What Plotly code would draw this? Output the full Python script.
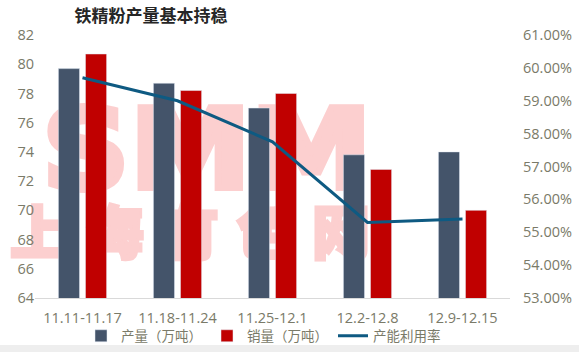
import base64
import plotly.graph_objects as go

categories = ["11.11-11.17", "11.18-11.24", "11.25-12.1", "12.2-12.8", "12.9-12.15"]
output_vals = [79.7, 78.7, 77.0, 73.8, 74.0]      # 产量（万吨）
sales_vals = [80.7, 78.2, 78.0, 72.8, 70.0]       # 销量（万吨）
util_rate = [0.597, 0.590, 0.5775, 0.553, 0.554]  # 产能利用率

left_ticks = list(range(64, 83, 2))
right_ticks = [0.53, 0.54, 0.55, 0.56, 0.57, 0.58, 0.59, 0.60, 0.61]

W, H = 579, 352
ML, MR, MT, MB = 35, 69, 35, 54
PW, PH = W - ML - MR, H - MT - MB

tick_color = "#7A7A68"
font_fam = "Open Sans, Noto Sans CJK SC, sans-serif"

fig = go.Figure()
fig.add_trace(go.Bar(name="产量（万吨）", x=categories, y=output_vals,
                     marker_color="#44546A", yaxis="y"))
fig.add_trace(go.Bar(name="销量（万吨）", x=categories, y=sales_vals,
                     marker_color="#C00000", yaxis="y"))
fig.add_trace(go.Scatter(name="产能利用率", x=categories, y=util_rate, mode="lines",
                         line=dict(color="#0E5A82", width=3), yaxis="y2"))

svg = f'''<svg xmlns="http://www.w3.org/2000/svg" width="{W}" height="{H}" viewBox="0 0 {W} {H}">
<text x="42" y="188" font-family="DejaVu Sans, Liberation Sans" font-weight="bold" font-size="110" fill="#FCCFCF" stroke="#FCCFCF" stroke-width="6" textLength="330" lengthAdjust="spacingAndGlyphs">SMM</text>
<text x="10" y="254" font-family="Noto Sans CJK SC" font-weight="900" font-size="58" fill="#FCCFCF" stroke="#FCCFCF" stroke-width="3" textLength="360" lengthAdjust="spacing">上海有色网</text>
</svg>'''
uri = "data:image/svg+xml;base64," + base64.b64encode(svg.encode("utf-8")).decode()

fig.update_layout(
    width=W, height=H,
    margin=dict(l=ML, r=MR, t=MT, b=MB, autoexpand=False),
    paper_bgcolor="white", plot_bgcolor="rgba(0,0,0,0)",
    barmode="group", bargap=0.43, bargroupgap=0.22,
    font=dict(family=font_fam, size=13, color=tick_color),
    title=dict(text="<b>铁精粉产量基本持稳</b>", x=151 / W, xanchor="center",
               y=1 - 16 / H, yanchor="middle",
               font=dict(family="Noto Sans CJK SC", size=17, color="#262626")),
    xaxis=dict(showgrid=False, showline=True, linecolor="#D9D9D9", linewidth=1,
               ticks="", ticklabelstandoff=7, tickfont=dict(size=14.5, color=tick_color)),
    yaxis=dict(range=[64, 82], tickvals=left_ticks, showgrid=False, zeroline=False,
               showline=False, ticks="", tickfont=dict(size=14.5, color=tick_color)),
    yaxis2=dict(range=[0.53, 0.61], tickvals=right_ticks, tickformat=".2%",
                overlaying="y", side="right", showgrid=False, zeroline=False,
                showline=False, ticks="", ticklabelstandoff=12,
                tickfont=dict(size=14.5, color=tick_color)),
    legend=dict(orientation="h", x=0.5 - 9 / PW, xanchor="center", y=-38 / PH,
                yanchor="middle", font=dict(size=13.5, color=tick_color),
                itemwidth=30, tracegroupgap=0, bgcolor="rgba(0,0,0,0)"),
    showlegend=True,
    images=[dict(source=uri, xref="paper", yref="paper",
                 x=-ML / PW, y=1 + MT / PH, sizex=W / PW, sizey=H / PH,
                 xanchor="left", yanchor="top", sizing="stretch", layer="below")],
    shapes=[dict(type="rect", xref="paper", yref="paper",
                 x0=-ML / PW, x1=1 + MR / PW, y0=-MB / PH, y1=-47 / PH,
                 fillcolor="#EEEEEE", line=dict(width=0), layer="below")],
)

fig.write_html("out.html")
